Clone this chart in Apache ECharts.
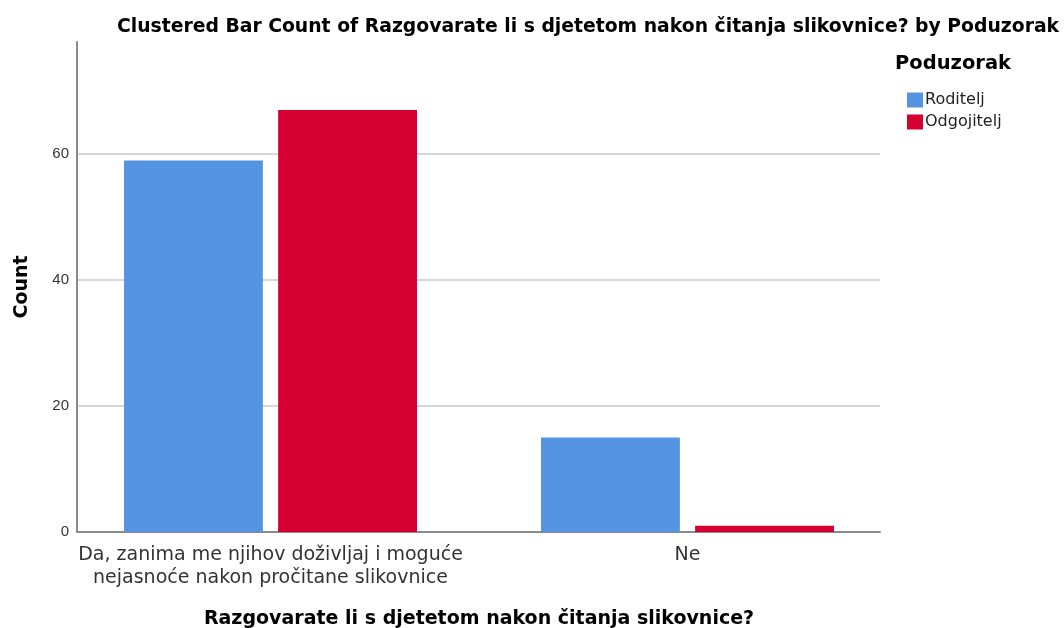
<!DOCTYPE html>
<html><head><meta charset="utf-8">
<script src="https://cdn.jsdelivr.net/npm/echarts@6/dist/echarts.min.js"></script>
<style>html,body{margin:0;padding:0;background:#fff}#c{width:1064px;height:628px}</style>
</head><body><div id="c"></div>
<script>
const categories = ['Da, zanima me njihov doživljaj i moguće\nnejasnoće nakon pročitane slikovnice', 'Ne'];
const seriesNames = ['Roditelj', 'Odgojitelj'];
const roditelj = [59, 15];
const odgojitelj = [67, 1];
const yTicks = [0, 20, 40, 60];

const chart = echarts.init(document.getElementById('c'));
const FONT = 'Liberation Sans, Arial, sans-serif';
const WIDE = 'DejaVu Sans, Liberation Sans, sans-serif';
const yMax = 77.8;
chart.setOption({
  animation: false,
  backgroundColor: '#ffffff',
  title: [
    {text: 'Clustered Bar Count of Razgovarate li s djetetom nakon čitanja slikovnice? by Poduzorak',
     left: 583, top: 13, textAlign: 'center',
     textStyle: {fontFamily: WIDE, fontWeight: 'bold', fontSize: 18.8, color: '#000'}},
    {text: 'Poduzorak', left: 890, top: 49,
     textStyle: {fontFamily: WIDE, fontWeight: 'bold', fontSize: 19.5, color: '#000'}}
  ],
  legend: {
    orient: 'vertical', left: 902, top: 87, itemWidth: 16, itemHeight: 15, itemGap: 6,
    icon: 'rect', data: seriesNames,
    textStyle: {fontFamily: WIDE, fontSize: 16, color: '#222', padding: [0, 0, 0, -3]}
  },
  grid: [
    {left: 77, top: 42, right: 184, bottom: 96, outerBoundsMode: 'none', containLabel: false},
    {left: 62, top: 42, right: 168, bottom: 96, outerBoundsMode: 'none', containLabel: false}
  ],
  xAxis: [
    {type: 'category', gridIndex: 0, data: categories,
     axisLine: {lineStyle: {color: '#8a8a8a', width: 2}}, axisTick: {show: false}, axisLabel: {show: false}},
    {type: 'category', gridIndex: 1, data: categories,
     axisLine: {show: false}, axisTick: {show: false},
     axisLabel: {interval: 0, hideOverlap: false, fontFamily: WIDE, fontSize: 19, color: '#333', margin: 12, lineHeight: 23},
     name: 'Razgovarate li s djetetom nakon čitanja slikovnice?', nameLocation: 'middle', nameGap: 78,
     nameTextStyle: {fontFamily: WIDE, fontWeight: 'bold', fontSize: 19, color: '#000'}}
  ],
  yAxis: [
    {type: 'value', gridIndex: 0, min: 0, max: yMax, interval: 20,
     axisLine: {show: true, lineStyle: {color: '#8a8a8a', width: 2}}, axisTick: {show: false},
     axisLabel: {fontFamily: FONT, fontSize: 15, color: '#333', margin: 8, showMaxLabel: false,
       formatter: v => yTicks.includes(v) ? String(v) : ''},
     splitLine: {show: true, showMinLine: false, showMaxLine: false, lineStyle: {color: '#c8c8c8', width: 1.5}},
     name: 'Count', nameLocation: 'middle', nameGap: 45,
     nameTextStyle: {fontFamily: WIDE, fontWeight: 'bold', fontSize: 19, color: '#000'}},
    {type: 'value', gridIndex: 1, min: 0, max: yMax, interval: 20, show: false, splitLine: {show: false}}
  ],
  series: [
    {name: seriesNames[0], type: 'bar', xAxisIndex: 1, yAxisIndex: 1, data: roditelj,
     barWidth: '33.3%', barGap: '11%', itemStyle: {color: '#5594e3'}},
    {name: seriesNames[1], type: 'bar', xAxisIndex: 1, yAxisIndex: 1, data: odgojitelj,
     barWidth: '33.3%', barGap: '11%', itemStyle: {color: '#d50031'}}
  ]
});
</script></body></html>
